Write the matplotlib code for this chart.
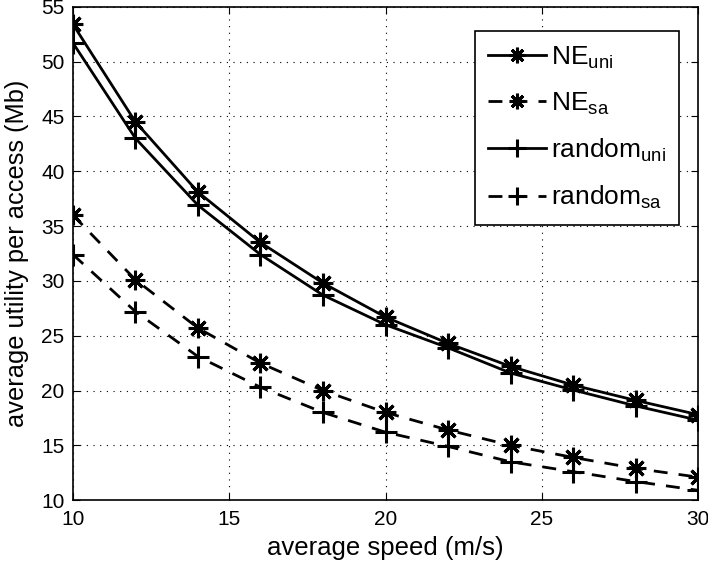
import matplotlib
matplotlib.use('Agg')
import matplotlib.pyplot as plt

plt.rcParams['font.family'] = ['Liberation Sans', 'DejaVu Sans']
plt.rcParams['mathtext.fontset'] = 'custom'
plt.rcParams['mathtext.rm'] = 'Liberation Sans'

speed = [10, 12, 14, 16, 18, 20, 22, 24, 26, 28, 30]
ne_uni = [53.4, 44.5, 38.1, 33.5, 29.8, 26.7, 24.3, 22.2, 20.5, 19.1, 17.8]
rand_uni = [51.7, 43.0, 36.9, 32.4, 28.7, 26.0, 23.9, 21.6, 20.05, 18.6, 17.3]
ne_sa = [36.0, 30.1, 25.7, 22.5, 20.0, 18.0, 16.4, 15.0, 13.9, 12.9, 12.1]
rand_sa = [32.4, 27.2, 23.1, 20.3, 18.0, 16.2, 14.9, 13.5, 12.6, 11.7, 10.9]

fig = plt.figure(figsize=(7.08, 5.62), dpi=100)
ax = fig.add_axes([0.103, 0.110, 0.883, 0.878])

lw = 2
star = (8, 2, 0)   # matlab style asterisk
ax.plot(speed, ne_uni, 'k-', marker=star, lw=lw, ms=14, mew=2.2, label=r'NE$_{\mathrm{uni}}$')
ax.plot(speed, ne_sa, 'k--', marker=star, lw=lw, ms=14, mew=2.2, dashes=(5, 4), label=r'NE$_{\mathrm{sa}}$')
ax.plot(speed, rand_uni, 'k-+', lw=lw, ms=16, mew=2.2, label=r'random$_{\mathrm{uni}}$')
ax.plot(speed, rand_sa, 'k--+', lw=lw, ms=16, mew=2.2, dashes=(5, 4), label=r'random$_{\mathrm{sa}}$')

ax.set_xlim(10, 30)
ax.set_ylim(10, 55)
ax.set_xticks([10, 15, 20, 25, 30])
ax.set_yticks(range(10, 56, 5))
ax.grid(True, color='k', linestyle=(0, (1, 5)), linewidth=0.8)
ax.tick_params(direction='in', top=True, right=True, labelsize=15, length=5)
ax.tick_params(axis='x', pad=7)
ax.tick_params(axis='y', pad=6)
for s in ax.spines.values():
    s.set_linewidth(1.2)

ax.set_xlabel('average speed (m/s)', fontsize=18.5, labelpad=5)
ax.set_ylabel('average utility per access (Mb)', fontsize=18.3, labelpad=9)

leg = ax.legend(loc='upper right', bbox_to_anchor=(0.97, 0.951), borderaxespad=0,
                fontsize=19, fancybox=False, framealpha=1, edgecolor='k',
                handlelength=2.2, handletextpad=0.2, labelspacing=0.75,
                borderpad=0.5, markerscale=0.8)
leg.get_frame().set_linewidth(1.2)

fig.savefig('out.png', dpi=100)
